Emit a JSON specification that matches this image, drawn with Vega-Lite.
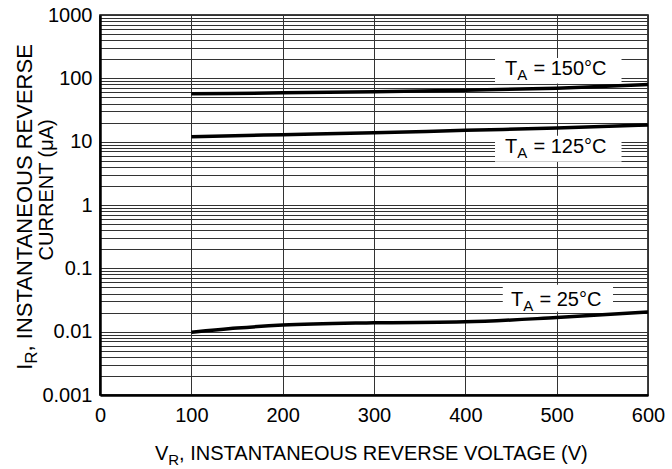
{
  "$schema": "https://vega.github.io/schema/vega-lite/v6.json",
  "width": 548,
  "height": 380,
  "autosize": {"type": "none"},
  "padding": {"left": 100, "top": 15, "right": 24, "bottom": 74},
  "background": "white",
  "config": {
    "view": {"stroke": "#000", "strokeWidth": 1.5},
    "font": "Liberation Sans",
    "text": {"font": "Liberation Sans", "color": "#000"}
  },
  "datasets": {
    "curves": [
      {"series": "150", "v": 100, "i": 57},
      {"series": "150", "v": 200, "i": 59},
      {"series": "150", "v": 300, "i": 61.5},
      {"series": "150", "v": 400, "i": 65},
      {"series": "150", "v": 500, "i": 70},
      {"series": "150", "v": 600, "i": 80},
      {"series": "125", "v": 100, "i": 12},
      {"series": "125", "v": 200, "i": 12.9},
      {"series": "125", "v": 300, "i": 13.8},
      {"series": "125", "v": 400, "i": 15.1},
      {"series": "125", "v": 500, "i": 16.4},
      {"series": "125", "v": 600, "i": 18.4},
      {"series": "25", "v": 100, "i": 0.0098},
      {"series": "25", "v": 150, "i": 0.0114},
      {"series": "25", "v": 200, "i": 0.0127},
      {"series": "25", "v": 300, "i": 0.0138},
      {"series": "25", "v": 400, "i": 0.0143},
      {"series": "25", "v": 500, "i": 0.0167},
      {"series": "25", "v": 600, "i": 0.0204}
    ],
    "boxes": [
      {"v1": 432.5, "v2": 571, "i1": 210, "i2": 83},
      {"v1": 432.5, "v2": 571, "i1": 12.35, "i2": 4.8},
      {"v1": 441, "v2": 561.7, "i1": 0.0551, "i2": 0.0209}
    ],
    "labels": [
      {"v": 443.4, "i": 113.3, "rest": "= 150°C"},
      {"v": 443.4, "i": 6.65, "rest": "= 125°C"},
      {"v": 450, "i": 0.0257, "rest": "= 25°C"}
    ]
  },
  "layer": [
    {
      "data": {"name": "boxes"},
      "mark": {"type": "rect", "fill": "white", "strokeWidth": 0},
      "encoding": {
        "x": {
          "field": "v1", "type": "quantitative",
          "scale": {"domain": [0, 600], "nice": false, "zero": false},
          "axis": {
            "values": [0, 100, 200, 300, 400, 500, 600],
            "format": "d",
            "grid": true, "gridColor": "#333", "gridWidth": 1,
            "ticks": false, "tickSize": 0,
            "domainColor": "#000", "domainWidth": 2.5,
            "labelFont": "Liberation Sans", "labelFontSize": 20, "labelColor": "#000",
            "labelPadding": 10, "labelFlush": false, "labelOverlap": false,
            "title": null
          }
        },
        "x2": {"field": "v2"},
        "y": {
          "field": "i1", "type": "quantitative",
          "scale": {"type": "log", "domain": [0.001, 1000], "nice": false},
          "axis": {
            "values": [0.001, 0.002, 0.003, 0.004, 0.005, 0.006, 0.007, 0.008, 0.009,
                       0.01, 0.02, 0.03, 0.04, 0.05, 0.06, 0.07, 0.08, 0.09,
                       0.1, 0.2, 0.3, 0.4, 0.5, 0.6, 0.7, 0.8, 0.9,
                       1, 2, 3, 4, 5, 6, 7, 8, 9,
                       10, 20, 30, 40, 50, 60, 70, 80, 90,
                       100, 200, 300, 400, 500, 600, 700, 800, 900, 1000],
            "labelExpr": "indexof([0.001, 0.01, 0.1, 1, 10, 100, 1000], datum.value) >= 0 ? '' + datum.value : ''",
            "grid": true, "gridColor": "#333", "gridWidth": 1,
            "ticks": false, "tickSize": 0,
            "domainColor": "#000", "domainWidth": 2.5,
            "labelFont": "Liberation Sans", "labelFontSize": 20, "labelColor": "#000",
            "labelPadding": 8, "labelOverlap": false, "labelBound": false, "labelFlush": false,
            "title": null
          }
        },
        "y2": {"field": "i2"}
      }
    },
    {
      "data": {"name": "curves"},
      "mark": {"type": "line", "color": "#000", "strokeWidth": 3.5, "interpolate": "monotone"},
      "encoding": {
        "x": {"field": "v", "type": "quantitative", "title": null},
        "y": {"field": "i", "type": "quantitative", "title": null},
        "detail": {"field": "series"}
      }
    },
    {
      "data": {"name": "labels"},
      "mark": {"type": "text", "text": "T", "align": "left", "baseline": "alphabetic", "fontSize": 20},
      "encoding": {
        "x": {"field": "v", "type": "quantitative", "title": null},
        "y": {"field": "i", "type": "quantitative", "title": null}
      }
    },
    {
      "data": {"name": "labels"},
      "mark": {"type": "text", "text": "A", "align": "left", "baseline": "alphabetic", "fontSize": 15, "dx": 12.2, "dy": 5},
      "encoding": {
        "x": {"field": "v", "type": "quantitative", "title": null},
        "y": {"field": "i", "type": "quantitative", "title": null}
      }
    },
    {
      "data": {"name": "labels"},
      "mark": {"type": "text", "align": "left", "baseline": "alphabetic", "fontSize": 20, "dx": 28.5},
      "encoding": {
        "x": {"field": "v", "type": "quantitative", "title": null},
        "y": {"field": "i", "type": "quantitative", "title": null},
        "text": {"field": "rest"}
      }
    },
    {
      "data": {"values": [{}]},
      "mark": {"type": "text", "text": "V", "align": "left", "baseline": "alphabetic", "fontSize": 20, "dx": 55, "dy": 64.5},
      "encoding": {"x": {"datum": 0, "type": "quantitative", "title": null}, "y": {"datum": 0.001, "type": "quantitative", "title": null}}
    },
    {
      "data": {"values": [{}]},
      "mark": {"type": "text", "text": "R", "align": "left", "baseline": "alphabetic", "fontSize": 15, "dx": 68.3, "dy": 69.5},
      "encoding": {"x": {"datum": 0, "type": "quantitative", "title": null}, "y": {"datum": 0.001, "type": "quantitative", "title": null}}
    },
    {
      "data": {"values": [{}]},
      "mark": {"type": "text", "text": ", INSTANTANEOUS REVERSE VOLTAGE (V)", "align": "left", "baseline": "alphabetic", "fontSize": 20, "dx": 79.1, "dy": 64.5},
      "encoding": {"x": {"datum": 0, "type": "quantitative", "title": null}, "y": {"datum": 0.001, "type": "quantitative", "title": null}}
    },
    {
      "data": {"values": [{}]},
      "mark": {"type": "text", "text": "I", "angle": 270, "align": "left", "baseline": "alphabetic", "fontSize": 22, "dx": -164.8, "dy": -68.3},
      "encoding": {"x": {"datum": 0, "type": "quantitative", "title": null}, "y": {"datum": 1, "type": "quantitative", "title": null}}
    },
    {
      "data": {"values": [{}]},
      "mark": {"type": "text", "text": "R", "angle": 270, "align": "left", "baseline": "alphabetic", "fontSize": 17, "dx": -158.7, "dy": -63},
      "encoding": {"x": {"datum": 0, "type": "quantitative", "title": null}, "y": {"datum": 1, "type": "quantitative", "title": null}}
    },
    {
      "data": {"values": [{}]},
      "mark": {"type": "text", "text": ", INSTANTANEOUS REVERSE", "angle": 270, "align": "left", "baseline": "alphabetic", "fontSize": 22, "dx": -146.4, "dy": -68.3},
      "encoding": {"x": {"datum": 0, "type": "quantitative", "title": null}, "y": {"datum": 1, "type": "quantitative", "title": null}}
    },
    {
      "data": {"values": [{}]},
      "mark": {"type": "text", "text": "CURRENT (μA)", "angle": 270, "align": "center", "baseline": "alphabetic", "fontSize": 20, "dx": 15.2, "dy": -46.7},
      "encoding": {"x": {"datum": 0, "type": "quantitative", "title": null}, "y": {"datum": 1, "type": "quantitative", "title": null}}
    }
  ]
}
